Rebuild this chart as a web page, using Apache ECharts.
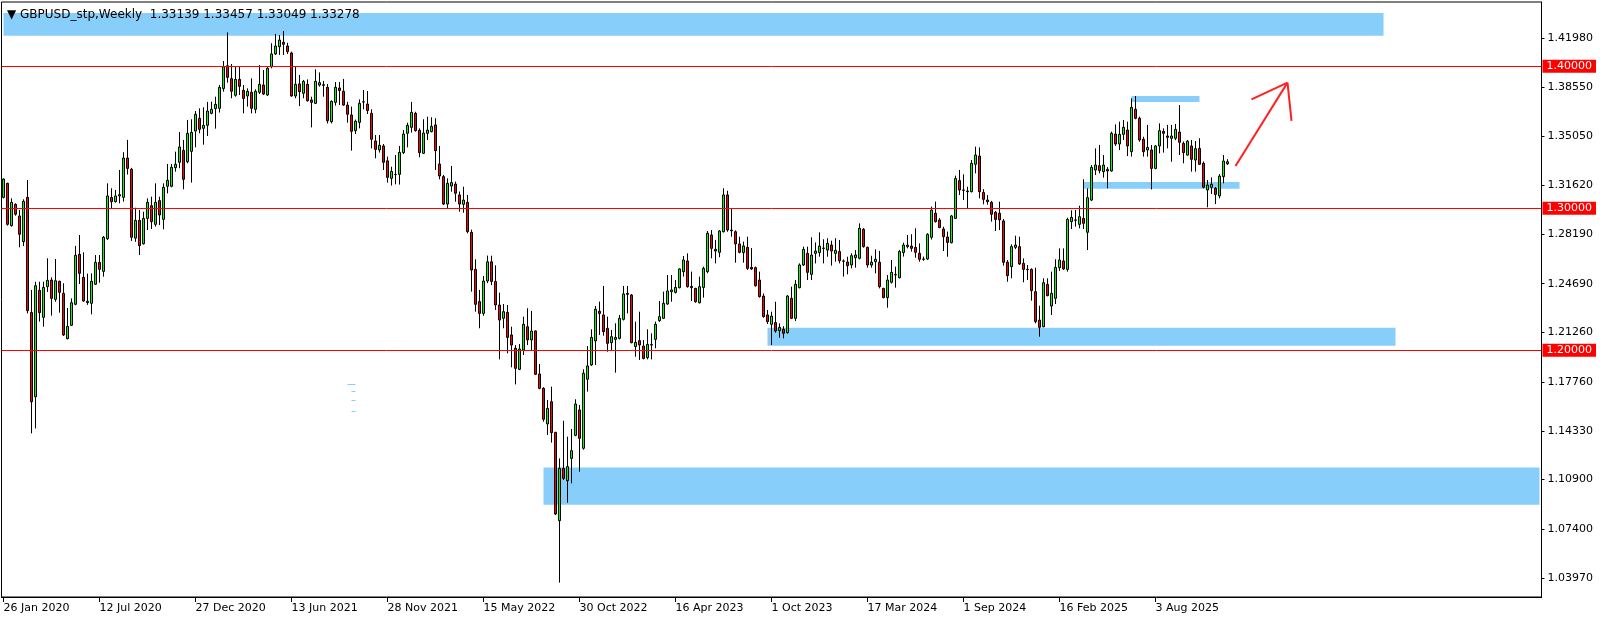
<!DOCTYPE html>
<html><head><meta charset="utf-8">
<script src="https://cdn.jsdelivr.net/npm/echarts@6/dist/echarts.min.js"></script>
<style>html,body{margin:0;padding:0;background:#fff}#c{width:1604px;height:620px}</style>
</head><body><div id="c"></div>
<script>
// ---- data (weekly GBPUSD candles) ----
const chartTitle = '\u25BC GBPUSD_stp,Weekly  1.33139 1.33457 1.33049 1.33278';
const tickLabels = ['26 Jan 2020','12 Jul 2020','27 Dec 2020','13 Jun 2021','28 Nov 2021','15 May 2022','30 Oct 2022','16 Apr 2023','1 Oct 2023','17 Mar 2024','1 Sep 2024','16 Feb 2025','3 Aug 2025'];
const weeksPerLabel = 24;
const weekSlots = 385;
const priceTicks = [1.41980,1.38550,1.35050,1.31620,1.28190,1.24690,1.21260,1.17760,1.14330,1.10900,1.07400,1.03970];
const levels = [1.40, 1.30, 1.20];
const lastPrice = 1.33278;

const open = [
1.3077,1.3176,1.2878,1.3028,1.2946,1.2765,1.3077,1.2267,1.1673,1.2422,
1.2232,1.2448,1.2495,1.2359,1.2486,1.2401,1.2082,1.2176,1.2324,1.2676,
1.2514,1.2345,1.2331,1.2465,1.2619,1.2556,1.2786,1.3077,1.3047,1.3087,
1.3077,1.3354,1.3275,1.2790,1.2915,1.2750,1.2929,1.3018,1.2887,1.3054,
1.2922,1.3155,1.3155,1.3286,1.3324,1.3408,1.3328,1.3401,1.3544,1.3634,
1.3563,1.3584,1.3669,1.3702,1.3704,1.3843,1.4004,1.3913,1.3796,1.3908,
1.3831,1.3791,1.3817,1.3697,1.3817,1.3868,1.3798,1.3997,1.4087,1.4138,
1.4169,1.4143,1.4094,1.3791,1.3876,1.3810,1.3873,1.3763,1.3739,1.3868,
1.3870,1.3852,1.3610,1.3746,1.3847,1.3824,1.3727,1.3657,1.3547,1.3605,
1.3748,1.3734,1.3669,1.3474,1.3411,1.3439,1.3334,1.3211,1.3237,1.3239,
1.3392,1.3528,1.3570,1.3669,1.3549,1.3387,1.3528,1.3540,1.3587,1.3312,
1.3223,1.3030,1.3157,1.3171,1.3094,1.3028,1.3042,1.2831,1.2570,1.2343,
1.2260,1.2488,1.2623,1.2485,1.2319,1.2225,1.2267,1.2108,1.2014,1.1866,
1.2002,1.2166,1.2073,1.2136,1.1833,1.1732,1.1481,1.1638,1.1422,1.0800,
1.1169,1.1082,1.1239,1.1401,1.1580,1.1310,1.1796,1.1897,1.2066,1.2275,
1.2249,1.2155,1.2054,1.2077,1.2084,1.2218,1.2401,1.2389,1.2026,1.2068,
1.2030,1.1948,1.2037,1.2077,1.2209,1.2225,1.2326,1.2413,1.2408,1.2441,
1.2554,1.2629,1.2450,1.2436,1.2335,1.2443,1.2554,1.2812,1.2711,1.2690,
1.2835,1.3094,1.2847,1.2835,1.2749,1.2688,1.2725,1.2584,1.2582,1.2495,
1.2382,1.2249,1.2183,1.2195,1.2138,1.2148,1.2124,1.2366,1.2225,1.2441,
1.2601,1.2683,1.2535,1.2683,1.2688,1.2718,1.2706,1.2741,1.2683,1.2695,
1.2627,1.2622,1.2601,1.2652,1.2648,1.2852,1.2725,1.2601,1.2624,1.2620,
1.2436,1.2371,1.2479,1.2531,1.2511,1.2688,1.2730,1.2734,1.2725,1.2683,
1.2643,1.2643,1.2796,1.2965,1.2918,1.2854,1.2798,1.2758,1.2929,1.3195,
1.3129,1.3122,1.3117,1.3310,1.3368,1.3112,1.3058,1.3042,1.2972,1.2965,
1.2911,1.2620,1.2589,1.2725,1.2730,1.2612,1.2570,1.2570,1.2413,1.2213,
1.2166,1.2464,1.2312,1.2366,1.2582,1.2629,1.2570,1.2906,1.2918,1.2887,
1.2929,1.2831,1.3058,1.3270,1.3300,1.3258,1.3274,1.3263,1.3523,1.3453,
1.3521,1.3551,1.3399,1.3697,1.3634,1.3486,1.3411,1.3411,1.3281,1.3439,
1.3542,1.3509,1.3493,1.3493,1.3537,1.3457,1.3375,1.3439,1.3340,1.3422,
1.3317,1.3129,1.3148,1.3141,1.3087,1.3223,1.33139
];
const high = [
1.3211,1.3180,1.3070,1.3035,1.2988,1.3063,1.3199,1.2425,1.2483,1.2483,
1.2483,1.2648,1.2514,1.2643,1.2490,1.2472,1.2298,1.2366,1.2735,1.2812,
1.2690,1.2540,1.2542,1.2671,1.2671,1.2805,1.3176,1.3141,1.3129,1.3270,
1.3395,1.3482,1.3285,1.3004,1.2988,1.2976,1.3070,1.3082,1.3176,1.3082,
1.3176,1.3312,1.3312,1.3399,1.3537,1.3481,1.3622,1.3627,1.3685,1.3704,
1.3711,1.3749,1.3751,1.3786,1.3868,1.4037,1.4239,1.4016,1.3997,1.3997,
1.3868,1.3845,1.3915,1.3838,1.4009,1.3974,1.3998,1.4162,1.4228,1.4220,
1.4249,1.4166,1.4103,1.4002,1.3939,1.3904,1.3908,1.3786,1.3979,1.3957,
1.3897,1.3875,1.3760,1.3889,1.3889,1.3911,1.3750,1.3716,1.3625,1.3767,
1.3833,1.3826,1.3697,1.3516,1.3516,1.3453,1.3364,1.3293,1.3375,1.3439,
1.3551,1.3603,1.3749,1.3680,1.3563,1.3627,1.3645,1.3641,1.3634,1.3439,
1.3235,1.3211,1.3298,1.3188,1.3118,1.3152,1.3094,1.2850,1.2641,1.2425,
1.2524,1.2667,1.2666,1.2599,1.2406,1.2326,1.2319,1.2166,1.2037,1.2044,
1.2237,1.2296,1.2277,1.2140,1.1904,1.1740,1.1650,1.1744,1.1426,1.1239,
1.1504,1.1392,1.1446,1.1655,1.1615,1.1866,1.2030,1.2148,1.2312,1.2343,
1.2453,1.2237,1.2143,1.2190,1.2249,1.2453,1.2453,1.2396,1.2202,1.2272,
1.2072,1.2148,1.2119,1.2202,1.2347,1.2413,1.2530,1.2530,1.2495,1.2577,
1.2664,1.2683,1.2554,1.2440,1.2519,1.2589,1.2840,1.2847,1.2777,1.2847,
1.3141,1.3124,1.3000,1.2845,1.2800,1.2765,1.2800,1.2720,1.2590,1.2554,
1.2400,1.2284,1.2272,1.2342,1.2190,1.2170,1.2389,1.2448,1.2495,1.2612,
1.2730,1.2730,1.2796,1.2760,1.2831,1.2782,1.2789,1.2772,1.2789,1.2777,
1.2640,1.2659,1.2683,1.2706,1.2894,1.2860,1.2730,1.2666,1.2711,1.2700,
1.2440,1.2530,1.2636,1.2589,1.2706,1.2758,1.2812,1.2817,1.2859,1.2753,
1.2660,1.2824,1.3012,1.3047,1.2930,1.2870,1.2836,1.2953,1.3230,1.3270,
1.3239,1.3152,1.3340,1.3434,1.3429,1.3135,1.3093,1.3052,1.2981,1.3047,
1.2925,1.2636,1.2746,1.2807,1.2800,1.2647,1.2601,1.2577,1.2582,1.2314,
1.2507,1.2507,1.2554,1.2641,1.2718,1.2718,1.2934,1.2986,1.2988,1.3018,
1.3204,1.3141,1.3305,1.3422,1.3446,1.3375,1.3290,1.3540,1.3591,1.3610,
1.3622,1.3610,1.3774,1.3791,1.3646,1.3504,1.3587,1.3446,1.3446,1.3598,
1.3563,1.3587,1.3587,1.3594,1.3727,1.3470,1.3481,1.3481,1.3474,1.3493,
1.3330,1.3199,1.3218,1.3150,1.3241,1.3375,1.33457
];
const low = [
1.3070,1.2878,1.2871,1.2948,1.2725,1.2734,1.2260,1.1415,1.1450,1.2202,
1.2166,1.2411,1.2244,1.2342,1.2265,1.2101,1.2077,1.2171,1.2317,1.2467,
1.2342,1.2320,1.2253,1.2460,1.2476,1.2519,1.2777,1.3000,1.3040,1.3035,
1.3047,1.3238,1.2770,1.2764,1.2671,1.2745,1.2847,1.2854,1.2871,1.2882,
1.2852,1.3105,1.3148,1.3258,1.3282,1.3134,1.3317,1.3181,1.3429,1.3528,
1.3448,1.3509,1.3662,1.3561,1.3674,1.3821,1.3885,1.3775,1.3786,1.3798,
1.3669,1.3716,1.3669,1.3669,1.3805,1.3798,1.3791,1.3986,1.4080,1.4080,
1.4080,1.4087,1.3786,1.3775,1.3720,1.3775,1.3751,1.3570,1.3735,1.3857,
1.3786,1.3598,1.3598,1.3723,1.3727,1.3722,1.3603,1.3406,1.3523,1.3563,
1.3697,1.3664,1.3422,1.3352,1.3392,1.3270,1.3181,1.3160,1.3169,1.3167,
1.3382,1.3429,1.3533,1.3540,1.3359,1.3382,1.3481,1.3535,1.3270,1.3204,
1.3023,1.3000,1.3117,1.3047,1.2976,1.2969,1.2824,1.2413,1.2272,1.2155,
1.2243,1.2473,1.2459,1.2284,1.1936,1.2155,1.1979,1.1880,1.1760,1.1860,
1.1967,1.2037,1.2002,1.1826,1.1725,1.1497,1.1404,1.1350,1.0840,1.0364,
1.1087,1.0927,1.1063,1.1395,1.1145,1.1300,1.1709,1.1890,1.1897,1.2108,
1.2103,1.1990,1.2002,1.1843,1.2077,1.2210,1.2260,1.2049,1.1955,1.1932,
1.1936,1.1936,1.1936,1.2014,1.2200,1.2220,1.2320,1.2342,1.2400,1.2436,
1.2519,1.2441,1.2347,1.2335,1.2330,1.2371,1.2543,1.2648,1.2612,1.2655,
1.2830,1.2835,1.2800,1.2617,1.2683,1.2617,1.2566,1.2566,1.2448,1.2371,
1.2230,1.2185,1.2037,1.2124,1.2089,1.2084,1.2118,1.2220,1.2206,1.2436,
1.2594,1.2495,1.2495,1.2612,1.2659,1.2612,1.2659,1.2596,1.2624,1.2612,
1.2519,1.2535,1.2577,1.2582,1.2640,1.2723,1.2582,1.2582,1.2542,1.2436,
1.2366,1.2300,1.2470,1.2441,1.2506,1.2660,1.2718,1.2695,1.2652,1.2624,
1.2630,1.2636,1.2780,1.2900,1.2860,1.2699,1.2659,1.2753,1.2925,1.3094,
1.3058,1.3000,1.3112,1.3246,1.3070,1.3028,1.3026,1.2906,1.2840,1.2847,
1.2596,1.2483,1.2507,1.2713,1.2601,1.2479,1.2495,1.2350,1.2190,1.2096,
1.2162,1.2380,1.2249,1.2326,1.2559,1.2566,1.2554,1.2854,1.2871,1.2859,
1.2854,1.2706,1.3051,1.3234,1.3246,1.3216,1.3141,1.3258,1.3440,1.3410,
1.3481,1.3368,1.3364,1.3627,1.3469,1.3364,1.3364,1.3133,1.3275,1.3387,
1.3392,1.3422,1.3328,1.3480,1.3375,1.3317,1.3370,1.3258,1.3258,1.3305,
1.3140,1.3007,1.3101,1.3030,1.3070,1.3176,1.33049
];
const close = [
1.3206,1.2887,1.3042,1.2958,1.2817,1.3049,1.2279,1.1638,1.2455,1.2265,
1.2443,1.2493,1.2366,1.2490,1.2408,1.2108,1.2169,1.2335,1.2669,1.2542,
1.2347,1.2336,1.2486,1.2619,1.2570,1.2796,1.3087,1.3047,1.3087,1.3096,
1.3354,1.3281,1.2796,1.2915,1.2737,1.2929,1.3042,1.2906,1.3042,1.2953,
1.3148,1.3197,1.3289,1.3310,1.3432,1.3204,1.3528,1.3535,1.3662,1.3556,
1.3584,1.3685,1.3697,1.3732,1.3852,1.3997,1.3922,1.3824,1.3908,1.3859,
1.3774,1.3824,1.3704,1.3824,1.3873,1.3805,1.3986,1.4087,1.4143,1.4185,
1.4155,1.4103,1.3791,1.3873,1.3821,1.3894,1.3758,1.3746,1.3894,1.3885,
1.3866,1.3617,1.3753,1.3852,1.3829,1.3727,1.3662,1.3542,1.3613,1.3739,
1.3750,1.3688,1.3486,1.3415,1.3444,1.3324,1.3218,1.3260,1.3239,1.3394,
1.3523,1.3584,1.3676,1.3547,1.3392,1.3530,1.3551,1.3577,1.3406,1.3228,
1.3030,1.3176,1.3181,1.3106,1.3030,1.3058,1.2836,1.2566,1.2324,1.2260,
1.2488,1.2623,1.2485,1.2319,1.2213,1.2272,1.2091,1.2037,1.1873,1.2009,
1.2183,1.2073,1.2136,1.1831,1.1732,1.1514,1.1591,1.1420,1.0847,1.1169,
1.1098,1.1181,1.1293,1.1622,1.1380,1.1838,1.1890,1.2091,1.2289,1.2260,
1.2131,1.2049,1.2096,1.2091,1.2225,1.2397,1.2394,1.2054,1.2056,1.2037,
1.1943,1.2042,1.2040,1.2183,1.2237,1.2331,1.2418,1.2425,1.2443,1.2573,
1.2636,1.2448,1.2441,1.2342,1.2448,1.2577,1.2824,1.2718,1.2699,1.2840,
1.3094,1.2847,1.2842,1.2749,1.2690,1.2735,1.2577,1.2573,1.2455,1.2378,
1.2237,1.2202,1.2241,1.2136,1.2162,1.2120,1.2382,1.2225,1.2465,1.2601,
1.2711,1.2549,1.2671,1.2699,1.2734,1.2720,1.2753,1.2699,1.2704,1.2631,
1.2629,1.2596,1.2666,1.2671,1.2859,1.2730,1.2601,1.2620,1.2641,1.2448,
1.2371,1.2495,1.2549,1.2533,1.2695,1.2741,1.2741,1.2718,1.2690,1.2641,
1.2641,1.2817,1.2988,1.2906,1.2864,1.2800,1.2760,1.2946,1.3210,1.3129,
1.3127,1.3117,1.3317,1.3375,1.3117,1.3063,1.3047,1.2958,1.2922,1.2918,
1.2620,1.2526,1.2730,1.2741,1.2608,1.2570,1.2568,1.2420,1.2202,1.2162,
1.2476,1.2385,1.2401,1.2584,1.2636,1.2573,1.2922,1.2936,1.2916,1.2941,
1.2894,1.3075,1.3288,1.3305,1.3265,1.3305,1.3263,1.3528,1.3453,1.3521,
1.3570,1.3439,1.3711,1.3634,1.3481,1.3399,1.3429,1.3281,1.3439,1.3547,
1.3528,1.3500,1.3509,1.3556,1.3465,1.3392,1.3472,1.3345,1.3420,1.3310,
1.3148,1.3164,1.3169,1.3098,1.3227,1.3333,1.33278
];

// zones: [fromWeek, toWeek, topPrice, bottomPrice]
const zones = [
  [0, 345, 1.4375, 1.4215],
  [282, 299, 1.3791, 1.3749],
  [270, 309, 1.3185, 1.3138],
  [191, 348, 1.2159, 1.2032],
  [135, 384, 1.1175, 1.0912]
];
// hand-drawn arrow segments: [[week, price], [week, price]]
const arrowSegs = [
  [[308, 1.3298], [321, 1.3885]],
  [[312, 1.3767], [321, 1.3885]],
  [[321, 1.3885], [322, 1.3615]]
];
// small blue dashes
const dashSegs = [
  [[86, 1.1763], [88, 1.1763]],
  [[87, 1.1714], [88, 1.1714]],
  [[87, 1.1648], [88, 1.1648]],
  [[87, 1.1573], [88, 1.1573]]
];

// ---- chart ----
const FONT = 'DejaVu Sans';
const cats = Array.from({length: weekSlots}, (_, i) => String(i));
const candles = open.map((o, i) => [o, close[i], low[i], high[i]]);
const showTick = (i) => i % weeksPerLabel === 0 && i < open.length;

const chart = echarts.init(document.getElementById('c'), null, {renderer: 'canvas'});
const boxLabel = (bg) => ({
  show: true, position: 'end', distance: 1, color: '#fff', backgroundColor: bg,
  fontFamily: FONT, fontSize: 11, lineHeight: 12, padding: [1, 4, 0, 4]
});

chart.setOption({
  animation: false,
  backgroundColor: '#fff',
  textStyle: {fontFamily: FONT},
  title: {
    text: chartTitle, left: 7, top: 9, padding: 0,
    textStyle: {fontSize: 12, fontWeight: 'normal', color: '#000', fontFamily: FONT}
  },
  grid: {
    left: 1.5, top: 2, width: 1540, height: 595,
    show: true, borderColor: '#000', borderWidth: 1, backgroundColor: '#fff',
    containLabel: false, outerBoundsMode: 'none'
  },
  xAxis: {
    type: 'category', data: cats, boundaryGap: true,
    axisLine: {show: true, lineStyle: {color: '#000', width: 1}},
    axisTick: {show: true, alignWithLabel: true, interval: showTick, length: 5, lineStyle: {color: '#000'}},
    axisLabel: {
      show: true, interval: showTick, align: 'left', margin: 6,
      formatter: (v, i) => tickLabels[Math.round(i / weeksPerLabel)] || '',
      color: '#000', fontSize: 11, fontFamily: FONT
    },
    splitLine: {show: false}
  },
  yAxis: {
    type: 'value', position: 'right',
    min: 1.026268, max: 1.445282,
    axisLine: {show: true, lineStyle: {color: '#000', width: 1}},
    axisTick: {show: true, customValues: priceTicks, length: 3, lineStyle: {color: '#000'}},
    axisLabel: {
      show: true, customValues: priceTicks, margin: 6,
      formatter: (v) => Number(v).toFixed(5),
      color: '#000', fontSize: 11, fontFamily: FONT
    },
    splitLine: {show: false}
  },
  series: [
    {
      type: 'line', data: [], z: 1, silent: true,
      markArea: {
        silent: true,
        itemStyle: {color: '#87cefa', opacity: 1},
        label: {show: false},
        data: zones.map(z => [{xAxis: z[0], yAxis: z[2]}, {xAxis: z[1], yAxis: z[3]}])
      }
    },
    {
      type: 'candlestick', name: 'GBPUSD', data: candles, z: 3, barWidth: 2,
      silent: true,
      itemStyle: {
        color: '#00ff00', color0: '#ff0000',
        borderColor: '#000', borderColor0: '#000', borderColorDoji: '#000', borderWidth: 1
      }
    },
    {
      type: 'line', data: [], z: 4, silent: true, clip: false,
      markLine: {
        silent: true, symbol: ['none', 'none'], animation: false,
        lineStyle: {color: '#ff0000', width: 1, type: 'solid'},
        emphasis: {disabled: true},
        data: levels.map(v => ({yAxis: v, label: Object.assign(boxLabel('#ff0000'), {formatter: v.toFixed(5)})}))
          .concat([{yAxis: lastPrice, lineStyle: {opacity: 0}, label: Object.assign(boxLabel('#000'), {formatter: lastPrice.toFixed(5)})}])
      }
    },
    {
      type: 'line', data: [], z: 5, silent: true,
      markLine: {
        silent: true, symbol: ['none', 'none'], animation: false,
        label: {show: false},
        lineStyle: {type: 'solid'},
        emphasis: {disabled: true},
        data: arrowSegs.map(s => [{coord: s[0], lineStyle: {color: '#ff2020', width: 2, type: 'solid'}}, {coord: s[1]}])
          .concat(dashSegs.map(s => [{coord: s[0], lineStyle: {color: '#87cefa', width: 1, type: 'solid'}}, {coord: s[1]}]))
      }
    }
  ]
});
</script>
</body></html>
